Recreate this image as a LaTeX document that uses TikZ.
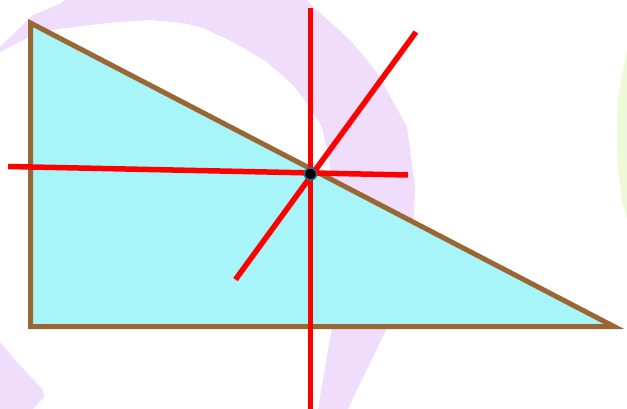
\documentclass[tikz,border=0pt]{standalone}
\begin{document}
\begin{tikzpicture}[x=1pt,y=-1pt,
  tri/.style={draw=triBrown,fill=triCyan,line width=5pt,line join=miter},
  redline/.style={draw=red,line width=5.5pt},
  hl/.style={fill=hlPurple,draw=none},
  hlg/.style={fill=hlGreen,draw=none}]
\definecolor{triBrown}{HTML}{9A6634}
\definecolor{triCyan}{HTML}{A7F5F8}
\definecolor{hlPurple}{HTML}{F0DDFB}
\definecolor{hlGreen}{HTML}{EEF9D9}
\definecolor{dotBlue}{HTML}{1C6A98}
\useasboundingbox (0,0) rectangle (627,409);
\begin{scope}
\clip (0,0) rectangle (627,409);
% purple highlighter band
\path[hl] (-5,49) -- (0,47) -- (33,15) -- (60,4) -- (72,-5) -- (303,-5) -- (313,7) -- (350,40)
  -- (367,60) -- (377,73) -- (407,127) -- (415,187) -- (414,213) -- (412,240) -- (400,290)
  -- (387,328) -- (373,357) -- (345,415) -- (317,415) -- (328,350) -- (332,328) -- (335,250)
  -- (333,190) -- (330,167) -- (327,150) -- (322,127) -- (307,103) -- (293,85) -- (267,62)
  -- (247,50) -- (233,42) -- (203,28) -- (183,23) -- (150,20) -- (107,23) -- (50,30)
  -- (33,35) -- (0,52) -- (-5,54) -- cycle;
\path[hl] (-5,342) -- (0,342) -- (15,360) -- (30,376) -- (43,390) -- (44,397) -- (33,409)
  -- (30,415) -- (-5,415) -- cycle;
% green highlighter
\path[hlg] (630,45) -- (627,50) -- (622,75) -- (618,100) -- (617,133) -- (618,170)
  -- (622,200) -- (627,220) -- (630,225) -- cycle;
\end{scope}
% triangle
\coordinate (A) at (30.5,23);
\coordinate (B) at (30.5,326.5);
\coordinate (C) at (614,326.5);
\path[tri] (A) -- (B) -- (C) -- cycle;
% red lines
\coordinate (P) at (310.5,174);
\coordinate (V1) at (310.5,8);
\coordinate (V2) at (310.5,412);
\coordinate (H1) at (8,166.5);
\coordinate (H2) at (408,175);
\coordinate (D1) at (235.5,279.5);
\coordinate (D2) at (416,32);
\draw[redline] (V1) -- (V2);
\draw[redline] (H1) -- (H2);
\draw[redline] (D1) -- (D2);
\node[circle,fill=black,draw=dotBlue,line width=1.5pt,minimum size=12pt,inner sep=0pt] (dot) at (P) {};
\end{tikzpicture}
\end{document}
